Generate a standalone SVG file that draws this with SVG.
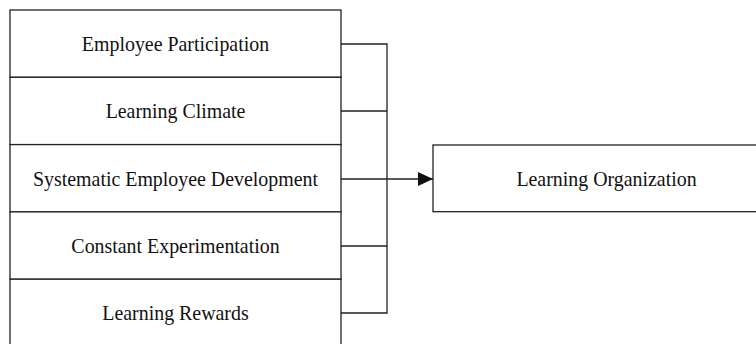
<svg xmlns="http://www.w3.org/2000/svg" width="756" height="344" viewBox="0 0 756 344">
<defs>
<style>
.box{fill:#fff;stroke:#222;stroke-width:1.3}
.lbl{font-family:"Liberation Serif","Times New Roman",serif;font-size:19.9px;fill:#111;text-anchor:middle;dominant-baseline:central}
.con{fill:none;stroke:#222;stroke-width:1.3}
</style>
<marker id="arr" markerWidth="16" markerHeight="14" refX="15" refY="7" orient="auto" markerUnits="userSpaceOnUse">
<path d="M0,0 L15,7 L0,14 Z" fill="#111"/>
</marker>
</defs>
<rect width="756" height="344" fill="#fff"/>
<g id="n1"><rect class="box" x="10" y="10" width="331" height="67.3"/><text class="lbl" x="175.5" y="44">Employee Participation</text></g>
<g id="n2"><rect class="box" x="10" y="77.3" width="331" height="67.3"/><text class="lbl" x="175.5" y="111">Learning Climate</text></g>
<g id="n3"><rect class="box" x="10" y="144.6" width="331" height="67.3"/><text class="lbl" x="175.5" y="178.5">Systematic Employee Development</text></g>
<g id="n4"><rect class="box" x="10" y="211.9" width="331" height="67.3"/><text class="lbl" x="175.5" y="245.5">Constant Experimentation</text></g>
<g id="n5"><rect class="box" x="10" y="279.2" width="331" height="67.3"/><text class="lbl" x="175.5" y="313">Learning Rewards</text></g>
<g id="n6"><rect class="box" x="433" y="145" width="347" height="66.7"/><text class="lbl" x="606.5" y="178.5">Learning Organization</text></g>
<g id="connectors">
<path class="con" d="M341,44 H387 V313 H341 M341,111 H387 M341,246 H387"/>
<path class="con" d="M341,179 H433" marker-end="url(#arr)"/>
</g>
</svg>
